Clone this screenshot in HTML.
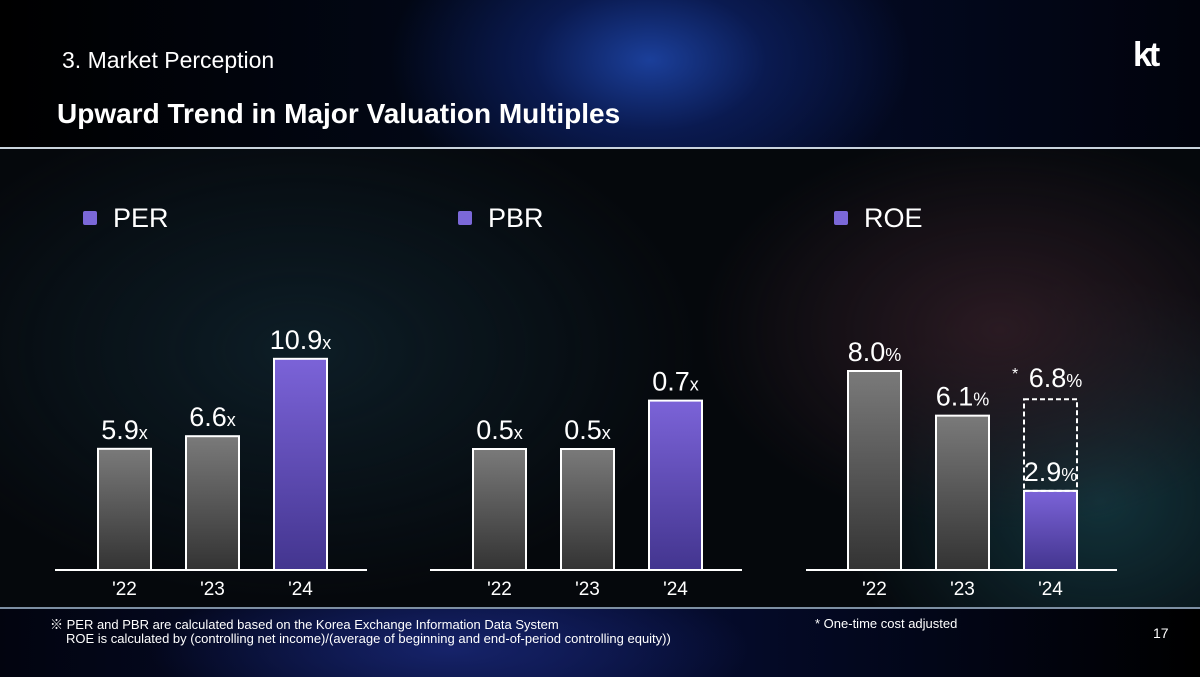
<!DOCTYPE html>
<html><head><meta charset="utf-8"><style>
html,body{margin:0;padding:0;}
body{width:1200px;height:675px;overflow:hidden;font-family:"Liberation Sans","Noto Sans CJK KR",sans-serif;color:#fff;position:relative;
background:radial-gradient(ellipse 300px 200px at 1000px 330px,#2a1a22 0%,rgba(0,0,0,0) 100%),radial-gradient(ellipse 260px 220px at 1100px 500px,#12323a 0%,rgba(0,0,0,0) 100%),radial-gradient(ellipse 400px 250px at 300px 350px,#0d1d26 0%,rgba(0,0,0,0) 100%),#05080c;}
#header{position:absolute;left:0;top:0;width:1200px;height:147px;background:radial-gradient(ellipse 260px 160px at 650px 60px,#1b3f9a 0%,#0a1a50 45%,rgba(0,0,0,0) 100%),linear-gradient(90deg,#000 0%,#020818 40%,#040c2a 60%,#01030c 100%);border-bottom:2px solid #c9d3dc;}
#footer{position:absolute;left:0;top:607px;width:1200px;height:68px;background:radial-gradient(ellipse 300px 80px at 450px 40px,#16236a 0%,rgba(0,0,0,0) 100%),linear-gradient(90deg,#02040f,#070f3a 45%,#030820 70%,#000 100%);border-top:2px solid #7d8fa3;}
.t{position:absolute;white-space:nowrap;}
svg{position:absolute;left:0;top:0;}
</style></head><body>
<div id="header"></div>
<div id="footer"></div>
<div class="t" style="left:62px;top:47px;font-size:23px;">3. Market Perception</div>
<div class="t" style="left:57px;top:98px;font-size:28px;font-weight:bold;">Upward Trend in Major Valuation Multiples</div>
<div class="t" style="left:1133px;top:36px;font-size:34px;font-weight:bold;letter-spacing:-3px;">kt</div>
<svg id="chart" width="1200" height="675"></svg>
<div class="t" style="left:50px;top:614px;font-size:13px;">※ PER and PBR are calculated based on the Korea Exchange Information Data System</div>
<div class="t" style="left:66px;top:631px;font-size:13px;">ROE is calculated by (controlling net income)/(average of beginning and end-of-period controlling equity))</div>
<div class="t" style="left:815px;top:616px;font-size:13px;">* One-time cost adjusted</div>
<div class="t" style="left:1153px;top:625px;font-size:14px;">17</div>
<script>
const years=["'22","'23","'24"];
const perValues=[5.9,6.6,10.9];
const pbrValues=[0.5,0.5,0.7];
const roeValues=[8.0,6.1,2.9];
const roeAdjusted=6.8;
const panels=[
 {name:'per',title:'PER',values:perValues,unit:'x',x0:55,x1:367,bx:98,scale:18,off:15},
 {name:'pbr',title:'PBR',values:pbrValues,unit:'x',x0:430,x1:742,bx:473,scale:242,off:0},
 {name:'roe',title:'ROE',values:roeValues,unit:'%',x0:806,x1:1117,bx:848,scale:23.5,off:11}
];
const NS='http://www.w3.org/2000/svg';
const svg=document.getElementById('chart');
const base=570,bw=53,step=88;
const defs=document.createElementNS(NS,'defs');
defs.innerHTML='<linearGradient id="gg" x1="0" y1="0" x2="0" y2="1"><stop offset="0" stop-color="#7a7a7a"/><stop offset="1" stop-color="#333"/></linearGradient><linearGradient id="pg" x1="0" y1="0" x2="0" y2="1"><stop offset="0" stop-color="#7b63d8"/><stop offset="1" stop-color="#43358f"/></linearGradient>';
svg.appendChild(defs);
function mk(tag,attrs){const e=document.createElementNS(NS,tag);for(const k in attrs)e.setAttribute(k,attrs[k]);svg.appendChild(e);return e;}
function label(x,y,val,unit){
 const t=mk('text',{x:x,y:y,'text-anchor':'middle','font-size':27,fill:'#fff','font-family':'Liberation Sans, sans-serif'});
 
 
 t.textContent=val.toFixed(1);
 const s=document.createElementNS(NS,'tspan');s.setAttribute('font-size','18');s.textContent=unit;t.appendChild(s);
 return t;
}
panels.forEach(p=>{
 const hOf=v=>p.off+v*p.scale;
 const lx=p.x0+28;
 const sq=mk('rect',{x:lx,y:211,width:14,height:14,rx:2,fill:'#7b68d8'});
 
 
 const lt=mk('text',{x:lx+30,y:227,'font-size':27,fill:'#fff'});
 
 
 lt.textContent=p.title;
 const ax=mk('line',{x1:p.x0,x2:p.x1,y1:base,y2:base,stroke:'#fff','stroke-width':2});
 
 
 p.values.forEach((v,i)=>{
  const x=p.bx+i*step,h=hOf(v);
  const r=mk('rect',{x:x,y:base-h,width:bw,height:h,fill:i==2?'url(#pg)':'url(#gg)',stroke:'#fff','stroke-width':2});
  
  
  label(x+bw/2,base-h-10,v,p.unit);
  const yl=mk('text',{x:x+bw/2,y:595,'text-anchor':'middle','font-size':19,fill:'#fff'});
  
  
  yl.textContent=years[i];
 });
 if(p.name==='roe'){
  const x=p.bx+2*step,h=hOf(roeAdjusted),h2=hOf(roeValues[2]);
  const d=mk('rect',{x:x,y:base-h,width:bw,height:h-h2,fill:'none',stroke:'#fff','stroke-width':2,'stroke-dasharray':'5,3'});
  
  
  label(x+bw/2+5,base-h-12,roeAdjusted,'%');
  const st=mk('text',{x:x-12,y:base-h-20,'font-size':16,fill:'#fff'});
  
  
  st.textContent='*';
 }
});
</script>
</body></html>
